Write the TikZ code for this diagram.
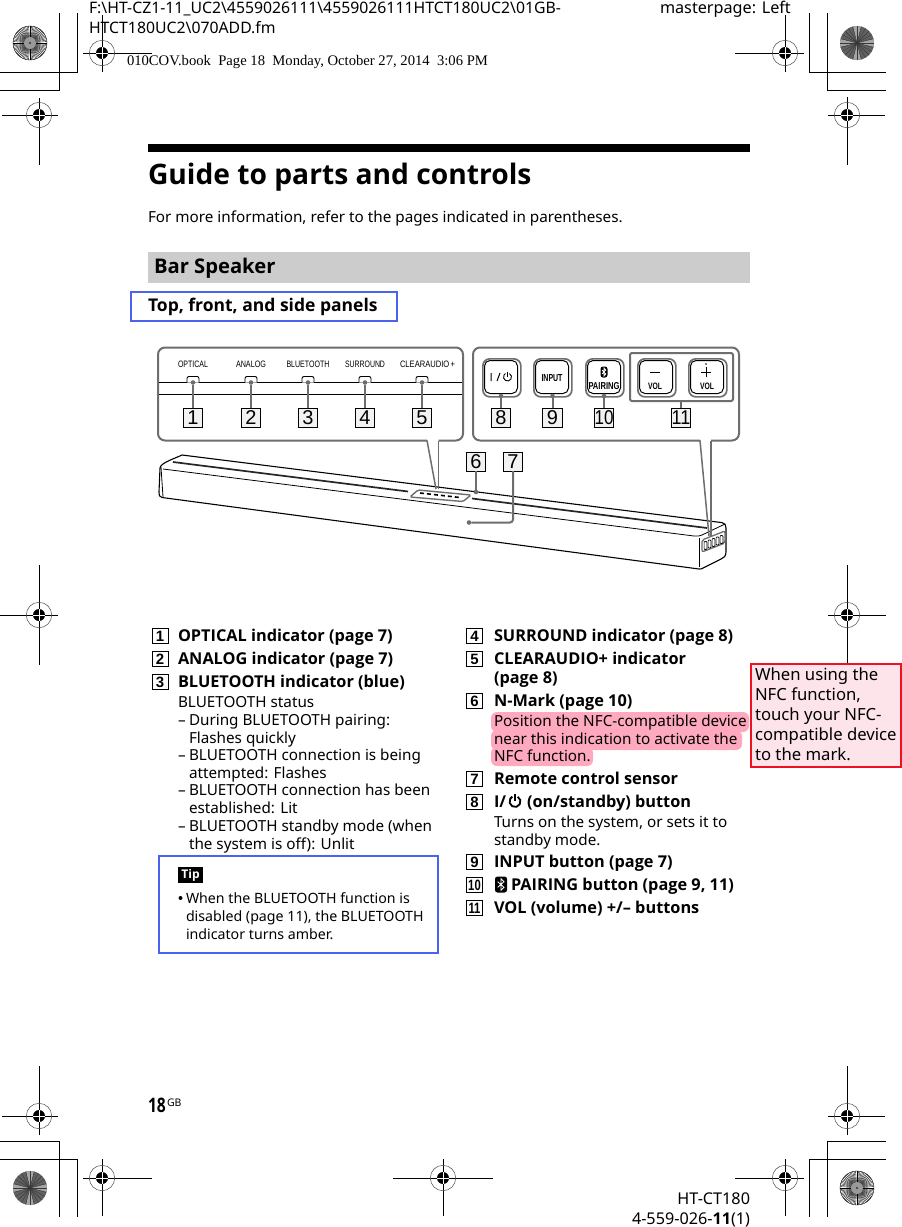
\documentclass[tikz,border=0pt]{standalone}
\usepackage{graphicx}
\usepackage{fontspec}
\setmainfont{Noto Sans}[BoldFont={Open Sans Bold}]
\newfontfamily\serifface{Liberation Serif}
\newfontfamily\arialface{Liberation Sans}
\usetikzlibrary{calc}
\definecolor{leader}{HTML}{6E6E6E}
\definecolor{hilite}{HTML}{FFA9BF}
\definecolor{notefill}{HTML}{FDE4EA}
\definecolor{notered}{HTML}{EE1122}
\definecolor{tipblue}{HTML}{4A62EE}
\definecolor{bandgray}{HTML}{CCCCCC}
\tikzset{
  txt/.style={anchor=base west,inner sep=0pt,outer sep=0pt},
  headtext/.style={txt,font=\fontsize{15.8}{18}\selectfont},
  mastertext/.style={txt,font=\fontsize{16.2}{18}\selectfont},
  booktext/.style={txt,font=\serifface\fontsize{14.65}{16}\selectfont},
  titletext/.style={txt,font=\bfseries\fontsize{28.2}{32}\selectfont},
  bodytext/.style={txt,font=\fontsize{15.25}{18}\selectfont},
  boldtext/.style={txt,font=\bfseries\fontsize{16.3}{18}\selectfont},
  notetext/.style={txt,font=\fontsize{16.7}{20}\selectfont},
  tiptext/.style={txt,font=\fontsize{14.2}{18}\selectfont},
  bandtext/.style={txt,font=\bfseries\fontsize{20.2}{22}\selectfont},
  subtext/.style={txt,font=\bfseries\fontsize{17.5}{20}\selectfont},
  footr/.style={inner sep=0pt,outer sep=0pt,anchor=base east,font=\fontsize{16.2}{20}\selectfont},
  numbox/.style={draw=black,line width=1pt,fill=white,minimum width=16pt,minimum height=15pt,inner sep=0pt,outer sep=0pt,font=\arialface\bfseries\fontsize{15}{15}\selectfont},
  callbox/.style={draw=black,line width=0.9pt,fill=black!5,minimum width=19.5pt,minimum height=19pt,inner sep=0pt,outer sep=0pt,font=\arialface\fontsize{20}{20}\selectfont},
  paneledge/.style={draw=leader,line width=2pt},
  leaderline/.style={draw=leader,line width=2pt},
  leaddot/.style={circle,fill=leader,minimum size=4.6pt,inner sep=0pt,outer sep=0pt},
  barline/.style={draw=black,line width=1pt},
  panlab/.style={inner sep=0pt,outer sep=0pt,anchor=base,font=\arialface},
  btnlab/.style={inner sep=0pt,outer sep=0pt,anchor=base,font=\arialface\bfseries},
  btnouter/.style={draw=leader,line width=1.7pt,rounded corners=7pt},
  btninner/.style={draw=black,line width=1pt,rounded corners=5.5pt},
}
% text node: name, x, baseline y, style, text
\newcommand{\tx}[5]{\node[#4] (#1) at (#2,#3) {#5};}
% registration mark: cx, cy, left, right, top, bottom reach
\newcommand{\regmark}[6]{%
  \draw[black,line width=0.8pt] (#1-#3,#2) -- (#1+#4,#2) (#1,#2-#5) -- (#1,#2+#6);
  \draw[black!70,line width=0.5pt] (#1,#2) circle[radius=12.7];
  \fill[black] (#1,#2) circle[radius=6];
  \draw[white,line width=0.4pt] (#1-6,#2) -- (#1+6,#2) (#1,#2-6) -- (#1,#2+6);
}
% spoked wheels
\newcommand{\lightwheel}[2]{%
  \fill[white] (#1,#2) circle[radius=17];
  \foreach \a in {0,5,...,355}{\draw[black,line width=0.35pt] (#1,#2) -- ++(\a:17);}
  \fill[black!40] (#1,#2) circle[radius=6];
  \fill[black!80] (#1,#2) circle[radius=1.2];
  \draw[black,line width=0.4pt] (#1,#2) circle[radius=17];
}
\newcommand{\darkwheel}[2]{%
  \fill[black!62] (#1,#2) circle[radius=17];
  \foreach \a in {0,90,180,270}{\fill[black!35] (#1,#2) -- ++(\a-13:17) arc[start angle=\a-13,end angle=\a+13,radius=17] -- cycle;}
  \foreach \a in {0,15,...,345}{\draw[black!78,line width=0.4pt] (#1,#2) -- ++(\a:17);}
  \fill[black!80] (#1,#2) circle[radius=1.4];
}
% bluetooth glyph: cx, cy, half width, half height
\newcommand{\btglyph}[4]{%
  \fill[black,rounded corners=2.5pt] (#1-#3,#2-#4) rectangle (#1+#3,#2+#4);
  \draw[white,line width=0.8pt,line join=miter]
    (#1-0.55*#3,#2-0.35*#4) -- (#1+0.5*#3,#2+0.35*#4) -- (#1,#2+0.72*#4) -- (#1,#2-0.72*#4) -- (#1+0.5*#3,#2-0.35*#4) -- (#1-0.55*#3,#2+0.35*#4);
}
% power icon: cx, cy, line width, radius
\newcommand{\powericon}[4]{%
  \draw[line width=#3,black] ($(#1,#2)+(-60:#4)$) arc[start angle=-60,end angle=240,radius=#4];
  \draw[line width=#3,black] (#1,#2-1.35*#4) -- (#1,#2-0.1*#4);
}
\begin{document}
\begin{tikzpicture}[x=1pt,y=-1pt]
\useasboundingbox (0,0) rectangle (902,1227);
\fill[white] (0,0) rectangle (902,1227);

% ---- printer marks
\begin{scope}[draw=black,line width=0.8pt]
\draw (0,72) -- (77,72) -- (77,13);
\draw (0,90) -- (59,90) -- (59,13);
\draw (886,72) -- (809,72) -- (809,13);
\draw (886,90) -- (827.5,90) -- (827.5,13);
\draw (0,1141.5) -- (59,1141.5) -- (59,1217);
\draw (0,1159.5) -- (77,1159.5) -- (77,1217);
\draw (886,1141.5) -- (827.5,1141.5) -- (827.5,1217);
\draw (886,1159.5) -- (809,1159.5) -- (809,1217);
\end{scope}
\lightwheel{30}{43}
\darkwheel{857}{43}
\darkwheel{30}{1188}
\lightwheel{857}{1188}
\regmark{102}{53}{19}{50}{38}{19}
\regmark{785}{53}{50}{19}{38}{19}
\regmark{39}{115}{37}{19}{17}{50}
\regmark{847}{115}{19}{38}{18}{50}
\regmark{39}{615}{39}{19}{50}{50}
\regmark{847}{615}{19}{39}{50}{50}
\regmark{39}{1116}{37}{19}{50}{19}
\regmark{847}{1116}{19}{38}{50}{19}
\regmark{102}{1178}{19}{50}{19}{38}
\regmark{443}{1178}{50}{50}{19}{38}
\regmark{785}{1178}{50}{19}{19}{38}

% ---- header
\tx{h1}{89}{13}{headtext}{F:\textbackslash HT-CZ1-11\_UC2\textbackslash 4559026111\textbackslash 4559026111HTCT180UC2\textbackslash 01GB-}
\tx{h2}{89}{33}{headtext}{HTCT180UC2\textbackslash 070ADD.fm}
\tx{h3}{660}{13}{mastertext}{masterpage: Left}
\tx{h4}{127}{65}{booktext}{010COV.book\ \ Page 18\ \ Monday, October 27, 2014\ \ 3:06 PM}

% ---- title block
\fill[black] (148,144) rectangle (750,152);
\tx{title}{148}{184}{titletext}{Guide to parts and controls}
\tx{intro}{148}{222}{bodytext}{For more information, refer to the pages indicated in parentheses.}
\fill[bandgray] (148,252) rectangle (750,283);
\tx{band}{154}{273}{bandtext}{Bar Speaker}
\draw[tipblue,line width=1.6pt] (131,292) rectangle (397,321);
\tx{sub}{148}{311}{subtext}{Top, front, and side panels}

% ---- bar speaker body
\draw[barline,line width=1.1pt,line join=round]
  (160,468) .. controls (160,463) and (176,458) .. (182,455) -- (722,522.6)
  .. controls (725,523) and (726,525) .. (726,528) -- (726,552)
  .. controls (726,556) and (724,558) .. (721,559) -- (703,568)
  .. controls (702,569) and (701,569) .. (699,569) -- (162,497.5)
  .. controls (159,497) and (159,495) .. (159,492) -- (160,468) -- cycle;
\draw[barline,line width=0.8pt] (161,467) -- (163,497);
\draw[barline,line width=0.8pt] (163,469) -- (694,536) .. controls (697,536.5) and (700,536) .. (702,535) -- (725,524);
\draw[black!85,line width=1.7pt] (173,462) -- (408,491.5);
\draw[black!85,line width=1.7pt] (472,498.5) -- (707,528);
\draw[barline,line width=0.9pt] (699,538) -- (699,567);
% NFC panel on the bar
\fill[white] (418,490) -- (471,495) -- (463,501.5) -- (410,497) -- cycle;
\draw[leader,line width=1.4pt,rounded corners=1.5pt] (418,490) -- (471,495) -- (463,501.5) -- (410,497) -- cycle;
\draw[black,line width=1.6pt,dash pattern=on 4pt off 3pt] (420,493) -- (460,497.5);
% end grille
\draw[leader,line width=1.3pt,fill=white,rounded corners=2pt] (702,540) -- (725,531) -- (725,543) -- (702,552) -- cycle;
\foreach \i/\xx/\yy in {0/705.5/545.5,1/709.5/544,2/713.5/542.5,3/717.5/541,4/721.5/539.5}{
  \draw[black,line width=0.7pt,fill=white,rounded corners=0.8pt] (\xx-1.4,\yy-4) rectangle (\xx+1.4,\yy+4);
}

% ---- left panel
\draw[paneledge,rounded corners=7pt] (427,440.5) -- (158,440.5) -- (158,347.5) -- (463,347.5) -- (463,440.5) -- (438.5,440.5);
\draw[leader,line width=1.5pt] (427,440.5) -- (436,489);
\draw[leader,line width=1.5pt] (438.5,440.5) -- (438.5,489);
\draw[black,line width=0.9pt] (159,382.5) -- (462,382.5) (159,394.5) -- (462,394.5);
\node[panlab] (pl1) at (193,367) {\resizebox{30pt}{6.5pt}{OPTICAL}};
\node[panlab] (pl2) at (251,367) {\resizebox{30pt}{6.5pt}{ANALOG}};
\node[panlab] (pl3) at (308,367) {\resizebox{43pt}{6.5pt}{BLUETOOTH}};
\node[panlab] (pl4) at (365,367) {\resizebox{40pt}{6.5pt}{SURROUND}};
\node[panlab] (pl5) at (427.5,367) {\resizebox{55pt}{6.5pt}{CLEARAUDIO\,+}};
\foreach \i/\xx in {1/193,2/251,3/308,4/365,5/422}{
  \draw[black,line width=0.9pt,fill=white,rounded corners=2pt] (\xx-6,382.5) -- (\xx-6,376.5) -- (\xx+6,376.5) -- (\xx+6,382.5);
  \node[callbox] (c\i) at (\xx,417.5) {\i};
  \node[leaddot] (d\i) at (\xx,382.5) {};
  \draw[leaderline] (d\i) -- (c\i);
}

% ---- right panel
\draw[paneledge,rounded corners=7pt] (700,440.5) -- (473,440.5) -- (473,347.5) -- (739,347.5) -- (739,440.5) -- (711,440.5);
\draw[leader,line width=1.5pt] (700,440.5) -- (709,536);
\draw[leader,line width=1.5pt] (711,440.5) -- (711,536);
\foreach \i/\xa in {8/482,9/533,10/585,vm/637,vp/688}{
  \node[btnouter,minimum width=38pt,minimum height=38pt,inner sep=0pt,anchor=north west] (b\i) at (\xa,358) {};
  \draw[btninner] (\xa+2.5,360.5) rectangle (\xa+35.5,393.5);
}
\draw[leader,line width=2pt,rounded corners=2pt] (630,353) rectangle (733,401);
\draw[black,line width=1pt] (491,373) -- (491,381) (497,381) -- (500,373);
\powericon{507.5}{377}{0.9pt}{4}
\node[btnlab] (bl9) at (552,381) {\resizebox{21pt}{7pt}{INPUT}};
\btglyph{604}{372}{3.5}{5.5}
\node[btnlab] (bl10) at (604,389) {\resizebox{31pt}{7pt}{PAIRING}};
\draw[black,line width=1pt] (650,372) -- (660,372);
\node[btnlab] (bl11) at (655,389) {\resizebox{14pt}{6.5pt}{VOL}};
\draw[black,line width=1pt] (701,372) -- (711,372) (706,367) -- (706,377);
\fill[black] (706,364) circle[radius=0.9];
\node[btnlab] (bl12) at (707,389) {\resizebox{14pt}{6.5pt}{VOL}};
\node[callbox] (c8) at (501,417.5) {8};
\node[callbox] (c9) at (552.5,417.5) {9};
\node[callbox] (c10) at (604,417.5) {\scalebox{0.85}[1]{10}};
\node[callbox] (c11) at (681,417.5) {\scalebox{0.9}[1]{11}};
\node[leaddot] (d8) at (501,396) {};
\node[leaddot] (d9) at (552.5,396) {};
\node[leaddot] (d10) at (604,396) {};
\coordinate (d11) at (681,401);
\draw[leaderline] (d8) -- (c8);
\draw[leaderline] (d9) -- (c9);
\draw[leaderline] (d10) -- (c10);
\draw[leaderline] (d11) -- (c11);
\node[callbox] (c6) at (476,461.5) {6};
\node[callbox] (c7) at (513,461.5) {7};
\node[leaddot] (d6) at (476,492) {};
\node[leaddot] (d7) at (469,522.5) {};
\draw[leaderline] (c6) -- (d6);
\draw[leaderline,rounded corners=3pt] (c7.south) |- (d7);

% ---- list, left column
\node[numbox] (n1) at (160,636) {1};
\node[numbox] (n2) at (160,659) {2};
\node[numbox] (n3) at (160,682) {3};
\tx{l1}{178}{641}{boldtext}{OPTICAL indicator (page 7)}
\tx{l2}{178}{664}{boldtext}{ANALOG indicator (page 7)}
\tx{l3}{178}{687}{boldtext}{BLUETOOTH indicator (blue)}
\tx{l4}{178}{707}{bodytext}{BLUETOOTH status}
\tx{l5a}{178}{725}{bodytext}{–}
\tx{l5}{189}{725}{bodytext}{During BLUETOOTH pairing:}
\tx{l6}{189}{743}{bodytext}{Flashes quickly}
\tx{l7a}{178}{760}{bodytext}{–}
\tx{l7}{189}{760}{bodytext}{BLUETOOTH connection is being}
\tx{l8}{189}{778}{bodytext}{attempted: Flashes}
\tx{l9a}{178}{795}{bodytext}{–}
\tx{l9}{189}{795}{bodytext}{BLUETOOTH connection has been}
\tx{l10}{189}{813}{bodytext}{established: Lit}
\tx{l11a}{178}{831}{bodytext}{–}
\tx{l11}{189}{831}{bodytext}{BLUETOOTH standby mode (when}
\tx{l12}{189}{849}{bodytext}{the system is off): Unlit}

% ---- tip
\draw[tipblue,line width=2pt] (159,856) rectangle (438,953);
\node[fill=black,text=white,minimum width=25pt,minimum height=16pt,inner sep=0pt,font=\bfseries\fontsize{12}{14}\selectfont] (tip) at (190.5,875) {Tip};
\fill[black] (180.5,898) circle[radius=2];
\tx{t1}{186}{903}{tiptext}{When the BLUETOOTH function is}
\tx{t2}{186}{921}{tiptext}{disabled (page 11), the BLUETOOTH}
\tx{t3}{186}{939}{tiptext}{indicator turns amber.}

% ---- list, right column
\node[numbox] (n4) at (474.5,636) {4};
\node[numbox] (n5) at (474.5,659) {5};
\node[numbox] (n6) at (474.5,701) {6};
\node[numbox] (n7) at (474.5,779) {7};
\node[numbox] (n8) at (474.5,802) {8};
\node[numbox] (n9) at (474.5,862) {9};
\node[numbox] (n10) at (474.5,885) {\scalebox{0.75}[1]{10}};
\node[numbox] (n11) at (474.5,908) {\scalebox{0.75}[1]{11}};
\tx{r1}{494}{641}{boldtext}{SURROUND indicator (page 8)}
\tx{r2}{494}{664}{boldtext}{CLEARAUDIO+ indicator}
\tx{r3}{494}{683}{boldtext}{(page 8)}
\tx{r4}{494}{706}{boldtext}{N-Mark (page 10)}
\fill[hilite,rounded corners=6pt] (491,712) rectangle (749,732);
\fill[hilite,rounded corners=6pt] (491,730) rectangle (742,750);
\fill[hilite,rounded corners=6pt] (491,747) rectangle (593,766);
\tx{r5}{494}{726}{bodytext}{Position the NFC-compatible device}
\tx{r6}{494}{744}{bodytext}{near this indication to activate the}
\tx{r7}{494}{761}{bodytext}{NFC function.}
\tx{r8}{494}{784}{boldtext}{Remote control sensor}
\tx{r9}{494}{807}{boldtext}{I/}
\powericon{515}{801.5}{1.8pt}{5.5}
\tx{r9b}{527}{807}{boldtext}{(on/standby) button}
\tx{r10}{494}{827}{bodytext}{Turns on the system, or sets it to}
\tx{r11}{494}{845}{bodytext}{standby mode.}
\tx{r12}{494}{867}{boldtext}{INPUT button (page 7)}
\btglyph{501}{884.5}{6}{8}
\tx{r13}{511}{890}{boldtext}{PAIRING button (page 9, 11)}
\tx{r14}{494}{913}{boldtext}{VOL (volume) +/– buttons}

% ---- note
\draw[notered,line width=2pt,fill=notefill] (751,664) rectangle (901,767);
\tx{q1}{755}{680}{notetext}{When using the}
\tx{q2}{755}{700}{notetext}{NFC function,}
\tx{q3}{755}{720}{notetext}{touch your NFC-}
\tx{q4}{755}{740}{notetext}{compatible device}
\tx{q5}{755}{760}{notetext}{to the mark.}

% ---- footer
\node[txt,font=\bfseries\fontsize{20}{22}\selectfont] (pg) at (148,1112) {\scalebox{0.78}[1]{18}};
\node[txt,font=\fontsize{10.5}{12}\selectfont] (gb) at (167,1106) {GB};
\node[footr] (f1) at (750,1204) {HT-CT180};
\node[footr] (f2) at (750,1224) {4-559-026-\textbf{11}(1)};
\end{tikzpicture}
\end{document}
